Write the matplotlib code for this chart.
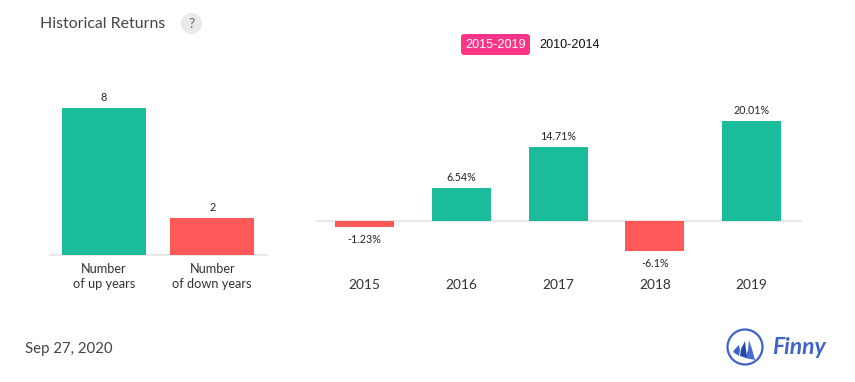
import matplotlib
matplotlib.use("Agg")
import matplotlib.pyplot as plt
from matplotlib.patches import Circle, Polygon, FancyBboxPatch

W, H = 855, 382
GREEN, RED = "#1abc9c", "#ff5858"
AXIS = "#e8e8e8"
TEXT = "#333333"

count_labels = ["Number\nof up years", "Number\nof down years"]
count_values = [8, 2]
years = ["2015", "2016", "2017", "2018", "2019"]
returns = [-1.23, 6.54, 14.71, -6.1, 20.01]
return_labels = ["-1.23%", "6.54%", "14.71%", "-6.1%", "20.01%"]
title = "Historical Returns"
date_text = "Sep 27, 2020"
legend_items = ["2015-2019", "2010-2014"]

plt.rcParams["font.family"] = "Lato"
fig = plt.figure(figsize=(W / 100, H / 100), dpi=100, facecolor="white")


def axes_px(l, t, r, b):
    return fig.add_axes([l / W, 1 - b / H, (r - l) / W, (b - t) / H])


def fig_text(x, y, s, **kw):
    kw.setdefault("va", "center")
    kw.setdefault("ha", "left")
    return fig.text(x / W, 1 - y / H, s, **kw)


def clean(ax):
    for s in ax.spines.values():
        s.set_visible(False)
    ax.set_yticks([])
    ax.tick_params(length=0)
    ax.patch.set_alpha(0)


# Left panel: baseline at y=255, 8 units = 147 px
ax1 = axes_px(49.5, 108, 266.5, 255)
clean(ax1)
ax1.set_xlim(-0.5, 1.5)
ax1.set_ylim(0, 8)
ax1.bar(range(2), count_values, width=84 / 108.5,
        color=[GREEN if i == 0 else RED for i in range(2)], zorder=2)
ax1.axhline(0, xmin=0.003, color=AXIS, lw=1.5, clip_on=False, zorder=1)
ax1.set_xticks(range(2), count_labels, fontsize=9.2, color=TEXT, linespacing=1.3)
ax1.tick_params(axis="x", pad=5.5)
for i, v in enumerate(count_values):
    ax1.annotate(str(v), (i, v), xytext=(0, 3.5), textcoords="offset points",
                 ha="center", va="bottom", fontsize=7.8, color="#222222")

# Right panel: baseline at y=221, 1 % = 5 px
ax2 = axes_px(316, 120.7, 800, 251.2)
clean(ax2)
ax2.set_xlim(-0.5, 4.5)
ax2.set_ylim(-6.1, 20.01)
ax2.bar(range(5), returns, width=59 / 96.8,
        color=[GREEN if v >= 0 else RED for v in returns], zorder=2)
ax2.axhline(0, xmin=0.002, xmax=1.002, color=AXIS, lw=1.5, clip_on=False, zorder=1)
ax2.set_xticks(range(5), years, fontsize=9.9, color=TEXT)
ax2.tick_params(axis="x", pad=20.1)
for i, (v, s) in enumerate(zip(returns, return_labels)):
    off = 3.5 if v >= 0 else -5
    ax2.annotate(s, (i, v), xytext=(0, off), textcoords="offset points", ha="center",
                 va="bottom" if v >= 0 else "top", fontsize=7.7, color="#222222")

# Header
fig_text(40, 23.5, title, fontsize=11.45, color="#444444")

# overlay axes in pixel coordinates for decorations
ov = fig.add_axes([0, 0, 1, 1], zorder=-1)
ov.set_xlim(0, W)
ov.set_ylim(H, 0)
ov.axis("off")
ov.add_patch(Circle((191.5, 23.5), 10.5, color="#e9e9e9", lw=0))
ov.add_patch(FancyBboxPatch((461, 34), 69, 21, boxstyle="round,pad=0,rounding_size=3",
                            fc="#fb3585", ec="none", lw=0))
fig_text(191.5, 24, "?", fontsize=10, color="#666666", ha="center")
fig_text(496, 44.5, legend_items[0], fontsize=9.1, color="white", ha="center",
         family="Liberation Sans")
fig_text(539.5, 44.5, legend_items[1], fontsize=9.1, color="#111111",
         family="Liberation Sans")

# Date
fig_text(25, 349, date_text, fontsize=10.8, color="#444444")

# Logo
BLUE = "#3f63c8"
ov.add_patch(Circle((745, 347), 17.5, fc="white", ec=BLUE, lw=1.6))
ov.add_patch(Polygon([(749, 340), (752, 349), (755, 360), (745, 358), (748, 350)], color="#4a6cd0", lw=0))
ov.add_patch(Polygon([(745, 341), (741, 349), (740, 356), (747, 358), (746, 350)], color="#2447a8", lw=0))
ov.add_patch(Polygon([(739, 345), (735, 349), (733, 352), (739, 356), (740, 350)], color="#3f63c8", lw=0))
fig_text(772, 347, "Finny", fontsize=16.5, color=BLUE, style="italic", weight="bold")

fig.savefig("out.png", dpi=100, facecolor="white")
